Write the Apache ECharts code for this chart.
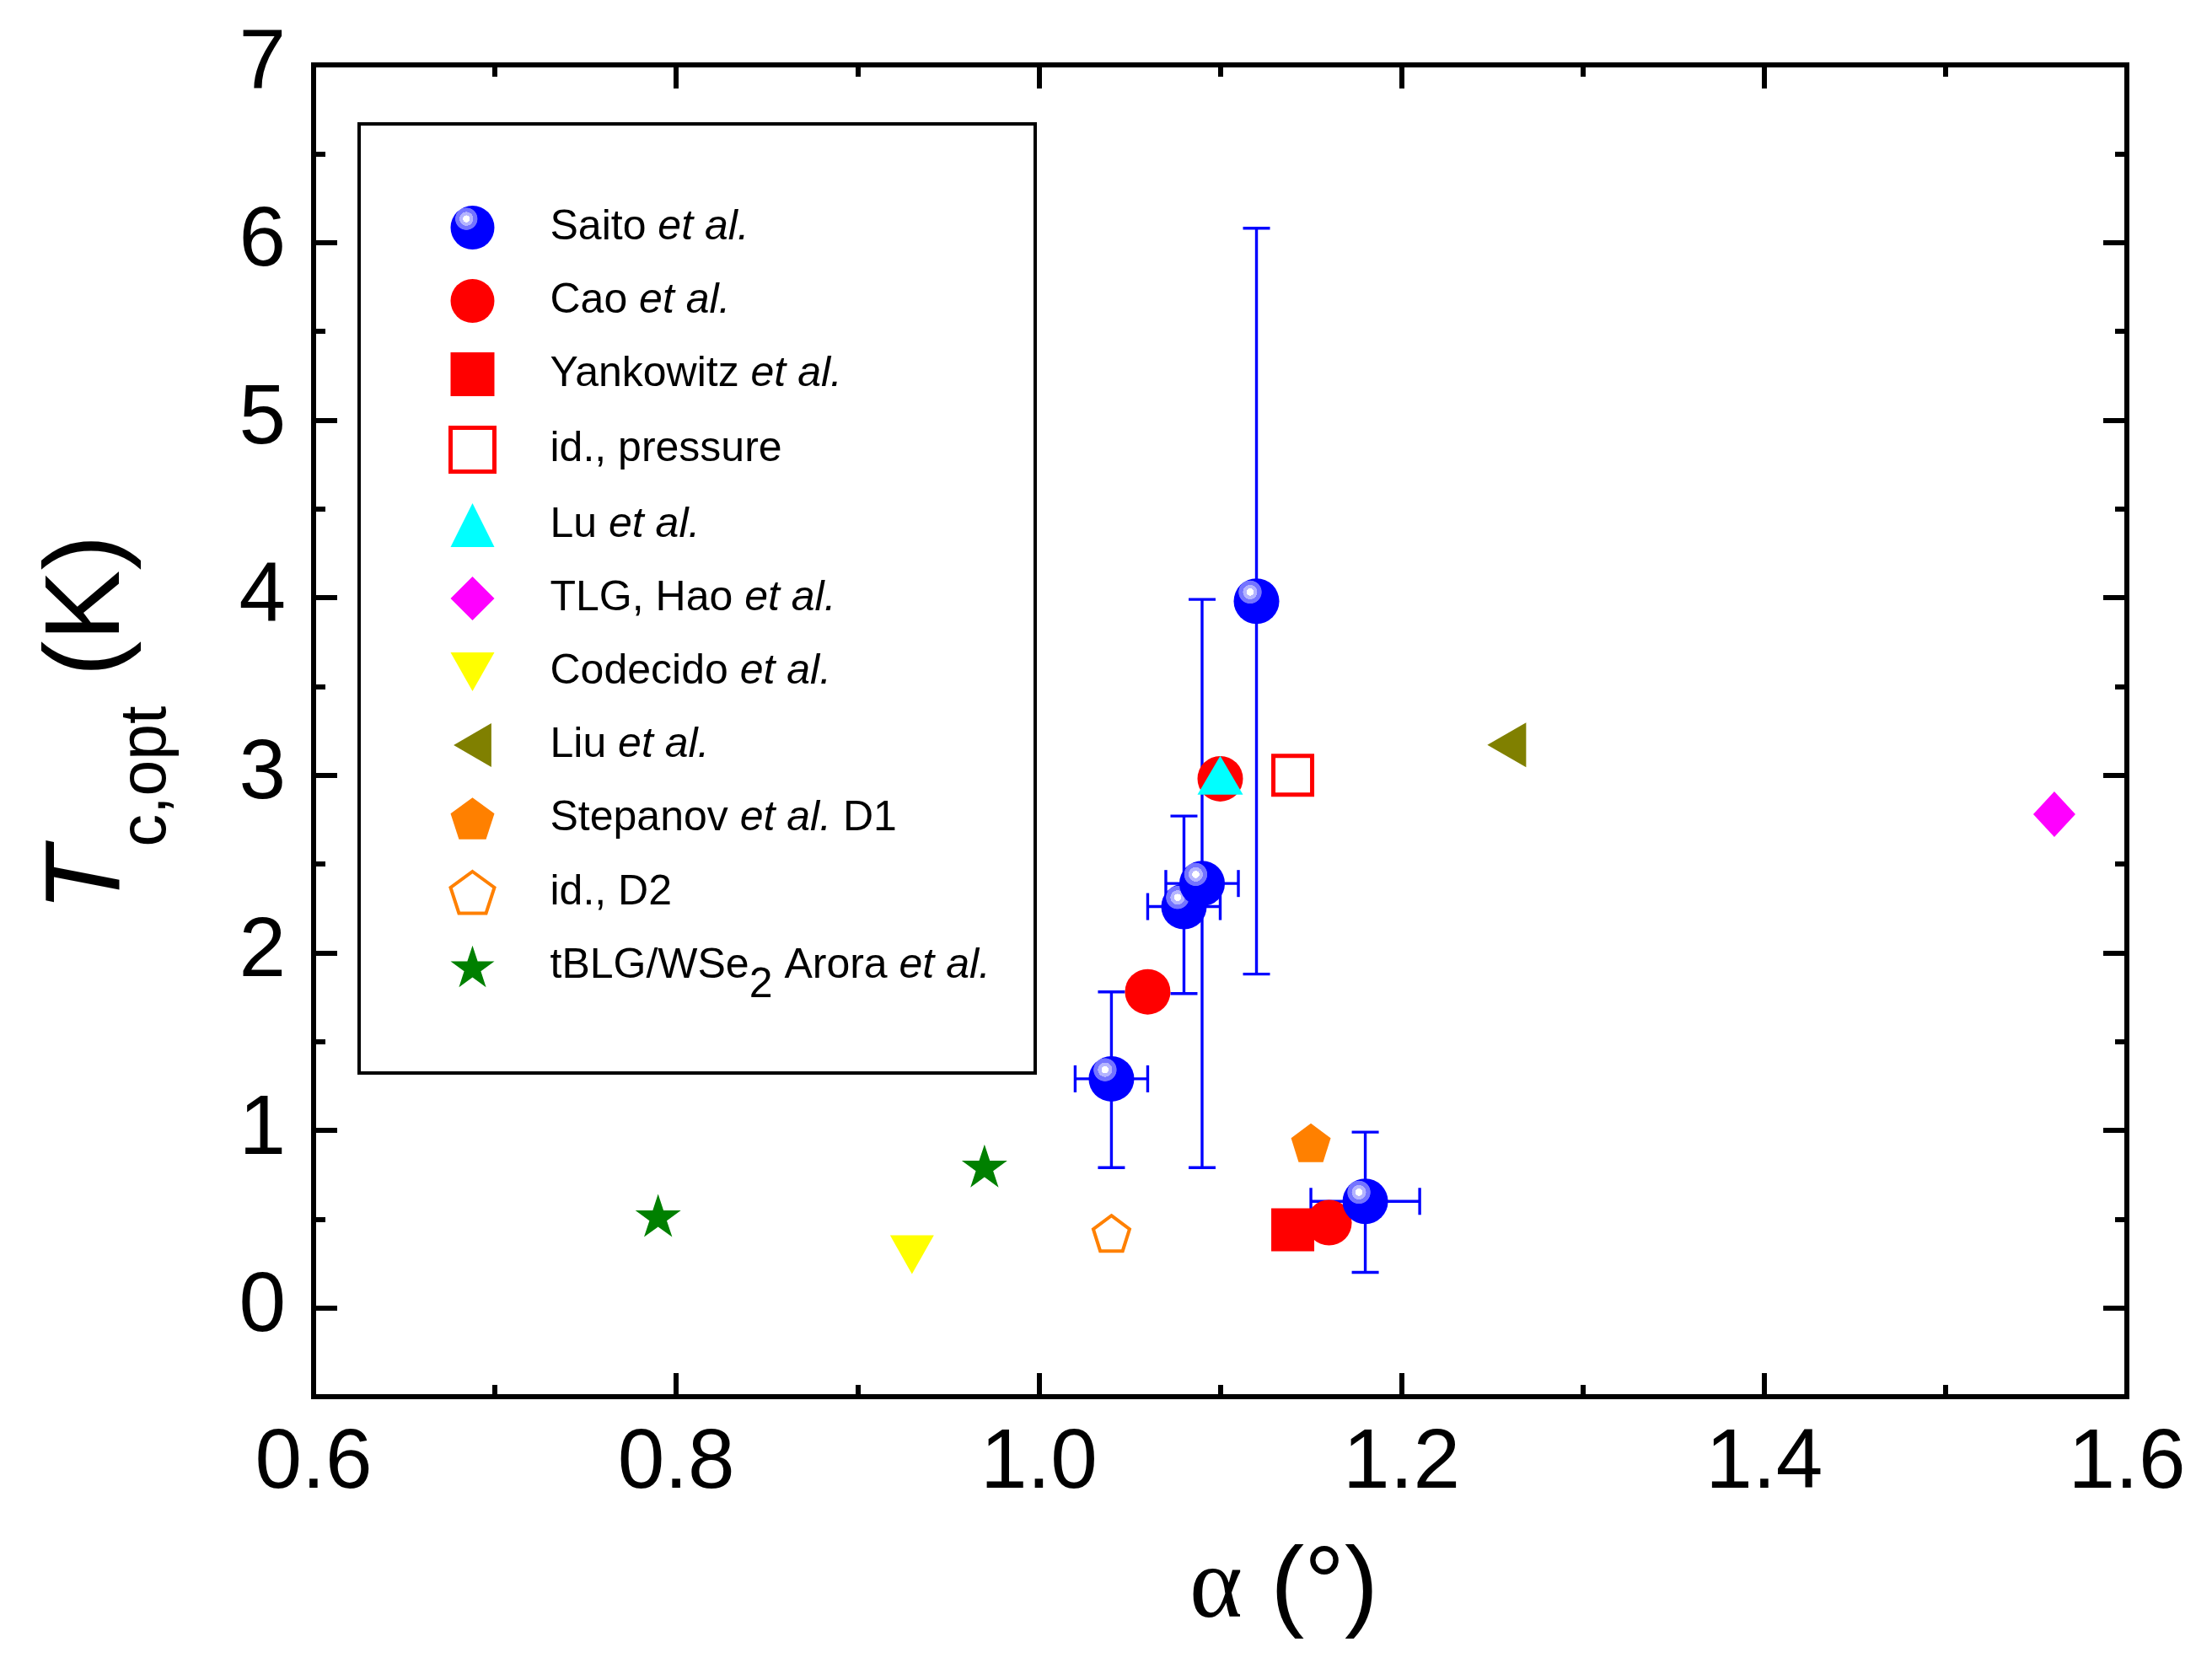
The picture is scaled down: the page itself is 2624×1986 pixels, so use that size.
<!DOCTYPE html>
<html>
<head>
<meta charset="utf-8">
<script src="https://cdn.jsdelivr.net/npm/echarts@6/dist/echarts.min.js"></script>
<style>html,body{margin:0;padding:0;background:#fff;}#c{width:2624px;height:1986px;}</style>
</head>
<body>
<div id="c"></div>
<script>
// ---- data ----
const X_MIN = 0.6, X_MAX = 1.6, X_INTERVAL = 0.2;
const Y_MIN = -0.5, Y_MAX = 7;
const Y_TICKS = [0, 1, 2, 3, 4, 5, 6, 7];

const SAITO_X   = [1.04, 1.08, 1.09, 1.12, 1.18];
const SAITO_Y   = [1.29, 2.26, 2.39, 3.98, 0.60];
const SAITO_YLO = [0.79, 1.77, 0.79, 1.88, 0.20];
const SAITO_YHI = [1.78, 2.77, 3.99, 6.08, 0.99];
const SAITO_XLO = [1.02, 1.06, 1.07, null, 1.15];
const SAITO_XHI = [1.06, 1.10, 1.11, null, 1.21];

const CAO        = [[1.06, 1.78], [1.10, 2.98], [1.16, 0.48]];
const YANKOWITZ  = [[1.14, 0.44]];
const PRESSURE   = [[1.14, 3.00]];
const LU         = [[1.10, 3.00]];
const HAO        = [[1.56, 2.78]];
const CODECIDO   = [[0.93, 0.30]];
const LIU        = [[1.258, 3.17]];
const STEPANOV1  = [[1.15, 0.93]];
const STEPANOV2  = [[1.04, 0.42]];
const ARORA      = [[0.79, 0.52], [0.97, 0.80]];

const NAMES = ['Saito et al.', 'Cao et al.', 'Yankowitz et al.', 'id., pressure', 'Lu et al.',
  'TLG, Hao et al.', 'Codecido et al.', 'Liu et al.', 'Stepanov et al. D1', 'id., D2', 'tBLG/WSe2 Arora et al.'];

// ---- styles ----
const FONT = "'Liberation Sans', Arial, sans-serif";
const PENTAGON = 'path://M0,-1 L0.951,-0.309 L0.588,0.809 L-0.588,0.809 L-0.951,-0.309 Z';
const STAR = 'path://M0,-1 L0.2245,-0.309 L0.951,-0.309 L0.363,0.118 L0.588,0.809 L0,0.382 L-0.588,0.809 L-0.363,0.118 L-0.951,-0.309 L-0.2245,-0.309 Z';
const DOWN_TRI = 'path://M0,0 L10,0 L5,8.8 Z';
const LEFT_TRI = 'path://M8.6,0 L8.6,10 L0,5 Z';
const BALL = {
  type: 'radial', x: 0.36, y: 0.3, r: 0.26,
  colorStops: [
    {offset: 0, color: '#ffffff'}, {offset: 0.3, color: '#ffffff'},
    {offset: 0.31, color: '#b4b4ff'}, {offset: 0.6, color: '#b4b4ff'},
    {offset: 0.61, color: '#7474ff'}, {offset: 0.95, color: '#7474ff'},
    {offset: 1, color: '#0000ff'}
  ]
};

const saitoPoints = SAITO_X.map((x, i) => [x, SAITO_Y[i]]);
const errData = SAITO_X.map((x, i) => [x, SAITO_Y[i], SAITO_YLO[i], SAITO_YHI[i],
  SAITO_XLO[i] == null ? x : SAITO_XLO[i], SAITO_XHI[i] == null ? x : SAITO_XHI[i]]);

function fmtLegend(name) {
  return name.replace('et al.', '{i|et al.}').replace('WSe2', 'WSe{sub|2}');
}

const tickCommon = (len) => ({show: true, inside: true, length: len, lineStyle: {color: '#000', width: 6}});
const noLine = {show: false, onZero: false};

const chart = echarts.init(document.getElementById('c'), null, {renderer: 'canvas'});
const option = {
  backgroundColor: '#fff',
  animation: false,
  textStyle: {fontFamily: FONT},
  grid: {left: 372, right: 101, top: 77, bottom: 329, show: true, borderColor: '#000', borderWidth: 6, backgroundColor: 'transparent'},
  graphic: [{
    type: 'rect', z: 1, shape: {x: 426, y: 147, width: 802, height: 1126},
    style: {fill: 'none', stroke: '#000', lineWidth: 4}
  }],
  legend: {
    data: NAMES.map(n => {
      const o = {name: n};
      if (n === 'id., pressure') o.itemStyle = {borderWidth: 5};
      if (n === 'id., D2') o.itemStyle = {borderWidth: 4};
      return o;
    }),
    orient: 'vertical', left: 532, top: 244, padding: 0,
    itemWidth: 52, itemHeight: 52, itemGap: 35,
    selectedMode: false,
    formatter: fmtLegend,
    textStyle: {
      fontFamily: FONT, fontSize: 50, color: '#000', lineHeight: 52, padding: [0, 0, 0, 61],
      rich: {
        i: {fontFamily: FONT, fontSize: 50, fontStyle: 'italic', color: '#000', lineHeight: 52},
        sub: {fontFamily: FONT, fontSize: 50, color: '#000', lineHeight: 52, padding: [23, 0, -23, 0]}
      }
    }
  },
  xAxis: [{
    type: 'value', position: 'bottom', min: X_MIN, max: X_MAX, interval: X_INTERVAL,
    axisLine: noLine, splitLine: {show: false},
    axisTick: tickCommon(28),
    minorTick: {show: true, splitNumber: 2, length: 14, lineStyle: {color: '#000', width: 6}},
    axisLabel: {fontSize: 100, color: '#000', fontFamily: FONT, margin: 30, formatter: v => v.toFixed(1)},
    name: '{a|α} {p|(°)}', nameLocation: 'middle', nameGap: 159,
    nameTextStyle: {
      fontSize: 120, color: '#000', fontFamily: FONT, padding: [0, 0, 0, 151],
      rich: {
        a: {fontFamily: "'Liberation Serif', 'Times New Roman', serif", fontSize: 120, color: '#000', lineHeight: 140},
        p: {fontFamily: FONT, fontSize: 120, color: '#000', lineHeight: 140}
      }
    }
  }, {
    type: 'value', position: 'top', min: X_MIN, max: X_MAX, interval: X_INTERVAL,
    axisLine: noLine, splitLine: {show: false},
    axisTick: tickCommon(28),
    minorTick: {show: true, splitNumber: 2, length: 14, lineStyle: {color: '#000', width: 6}},
    axisLabel: {show: false}
  }],
  yAxis: [{
    type: 'value', position: 'left', min: Y_MIN, max: Y_MAX,
    axisLine: noLine, splitLine: {show: false},
    axisTick: Object.assign(tickCommon(28), {customValues: Y_TICKS}),
    axisLabel: {fontSize: 100, color: '#000', fontFamily: FONT, margin: 33, customValues: Y_TICKS},
    name: '{t|T}{s|c,opt}{k| (K)}', nameLocation: 'middle', nameRotate: 90, nameGap: 201,
    nameTextStyle: {
      color: '#000', fontFamily: FONT, fontSize: 126, padding: [0, 0, 0, 18],
      rich: {
        t: {fontFamily: FONT, fontSize: 126, fontStyle: 'italic', color: '#000', lineHeight: 130},
        s: {fontFamily: FONT, fontSize: 77, color: '#000', lineHeight: 130, padding: [69, 0, -69, 0]},
        k: {fontFamily: FONT, fontSize: 126, color: '#000', lineHeight: 130}
      }
    }
  }, {
    type: 'value', position: 'left', min: Y_MIN, max: Y_MAX, interval: 0.5,
    axisLine: noLine, splitLine: {show: false},
    axisTick: tickCommon(14), axisLabel: {show: false}
  }, {
    type: 'value', position: 'right', min: Y_MIN, max: Y_MAX,
    axisLine: noLine, splitLine: {show: false},
    axisTick: Object.assign(tickCommon(28), {customValues: Y_TICKS}),
    axisLabel: {show: false}
  }, {
    type: 'value', position: 'right', min: Y_MIN, max: Y_MAX, interval: 0.5,
    axisLine: noLine, splitLine: {show: false},
    axisTick: tickCommon(14), axisLabel: {show: false}
  }],
  series: [
    {
      type: 'custom', name: 'err', z: 2, silent: true,
      encode: {x: 0, y: 1},
      data: errData,
      renderItem: function (params, api) {
        const x = api.value(0), ylo = api.value(2), yhi = api.value(3), xlo = api.value(4), xhi = api.value(5), y = api.value(1);
        const lo = api.coord([x, ylo]), hi = api.coord([x, yhi]);
        const cap = 16;
        const st = {stroke: '#0000ff', lineWidth: 3.4, fill: null};
        const ch = [
          {type: 'line', shape: {x1: lo[0], y1: lo[1], x2: hi[0], y2: hi[1]}, style: st},
          {type: 'line', shape: {x1: lo[0] - cap, y1: lo[1], x2: lo[0] + cap, y2: lo[1]}, style: st},
          {type: 'line', shape: {x1: hi[0] - cap, y1: hi[1], x2: hi[0] + cap, y2: hi[1]}, style: st}
        ];
        if (xhi > xlo) {
          const l = api.coord([xlo, y]), r = api.coord([xhi, y]);
          ch.push({type: 'line', shape: {x1: l[0], y1: l[1], x2: r[0], y2: r[1]}, style: st});
          ch.push({type: 'line', shape: {x1: l[0], y1: l[1] - cap, x2: l[0], y2: l[1] + cap}, style: st});
          ch.push({type: 'line', shape: {x1: r[0], y1: r[1] - cap, x2: r[0], y2: r[1] + cap}, style: st});
        }
        return {type: 'group', children: ch};
      }
    },
    {type: 'scatter', name: NAMES[2], z: 3, data: YANKOWITZ, symbol: 'rect', symbolSize: 51, itemStyle: {color: '#ff0000', opacity: 1}},
    {type: 'scatter', name: NAMES[1], z: 4, data: CAO, symbol: 'circle', symbolSize: 54, itemStyle: {color: '#ff0000', opacity: 1}},
    {type: 'scatter', name: NAMES[3], z: 4, data: PRESSURE, symbol: 'rect', symbolSize: 46, itemStyle: {color: '#ffffff', borderColor: '#ff0000', borderWidth: 5, opacity: 1}},
    {type: 'scatter', name: NAMES[4], z: 5, data: LU, symbol: 'triangle', symbolSize: [54, 46], itemStyle: {color: '#00ffff', opacity: 1}},
    {type: 'scatter', name: NAMES[5], z: 4, data: HAO, symbol: 'diamond', symbolSize: [50, 54], itemStyle: {color: '#ff00ff', opacity: 1}},
    {type: 'scatter', name: NAMES[6], z: 4, data: CODECIDO, symbol: DOWN_TRI, symbolSize: [52, 46], itemStyle: {color: '#ffff00', opacity: 1}},
    {type: 'scatter', name: NAMES[7], z: 4, data: LIU, symbol: LEFT_TRI, symbolSize: [46, 53], itemStyle: {color: '#808000', opacity: 1}},
    {type: 'scatter', name: NAMES[8], z: 4, data: STEPANOV1, symbol: PENTAGON, symbolSize: [47, 46], itemStyle: {color: '#ff8000', opacity: 1}},
    {type: 'scatter', name: NAMES[9], z: 4, data: STEPANOV2, symbol: PENTAGON, symbolSize: [43, 42], itemStyle: {color: '#ffffff', borderColor: '#ff8000', borderWidth: 4, opacity: 1}},
    {type: 'scatter', name: NAMES[10], z: 4, data: ARORA, symbol: STAR, symbolSize: [54, 51], itemStyle: {color: '#008000', opacity: 1}},
    {type: 'scatter', name: NAMES[0], z: 6, data: saitoPoints, symbol: 'circle', symbolSize: 54, itemStyle: {color: BALL, opacity: 1}}
  ]
};
chart.setOption(option);
</script>
</body>
</html>
